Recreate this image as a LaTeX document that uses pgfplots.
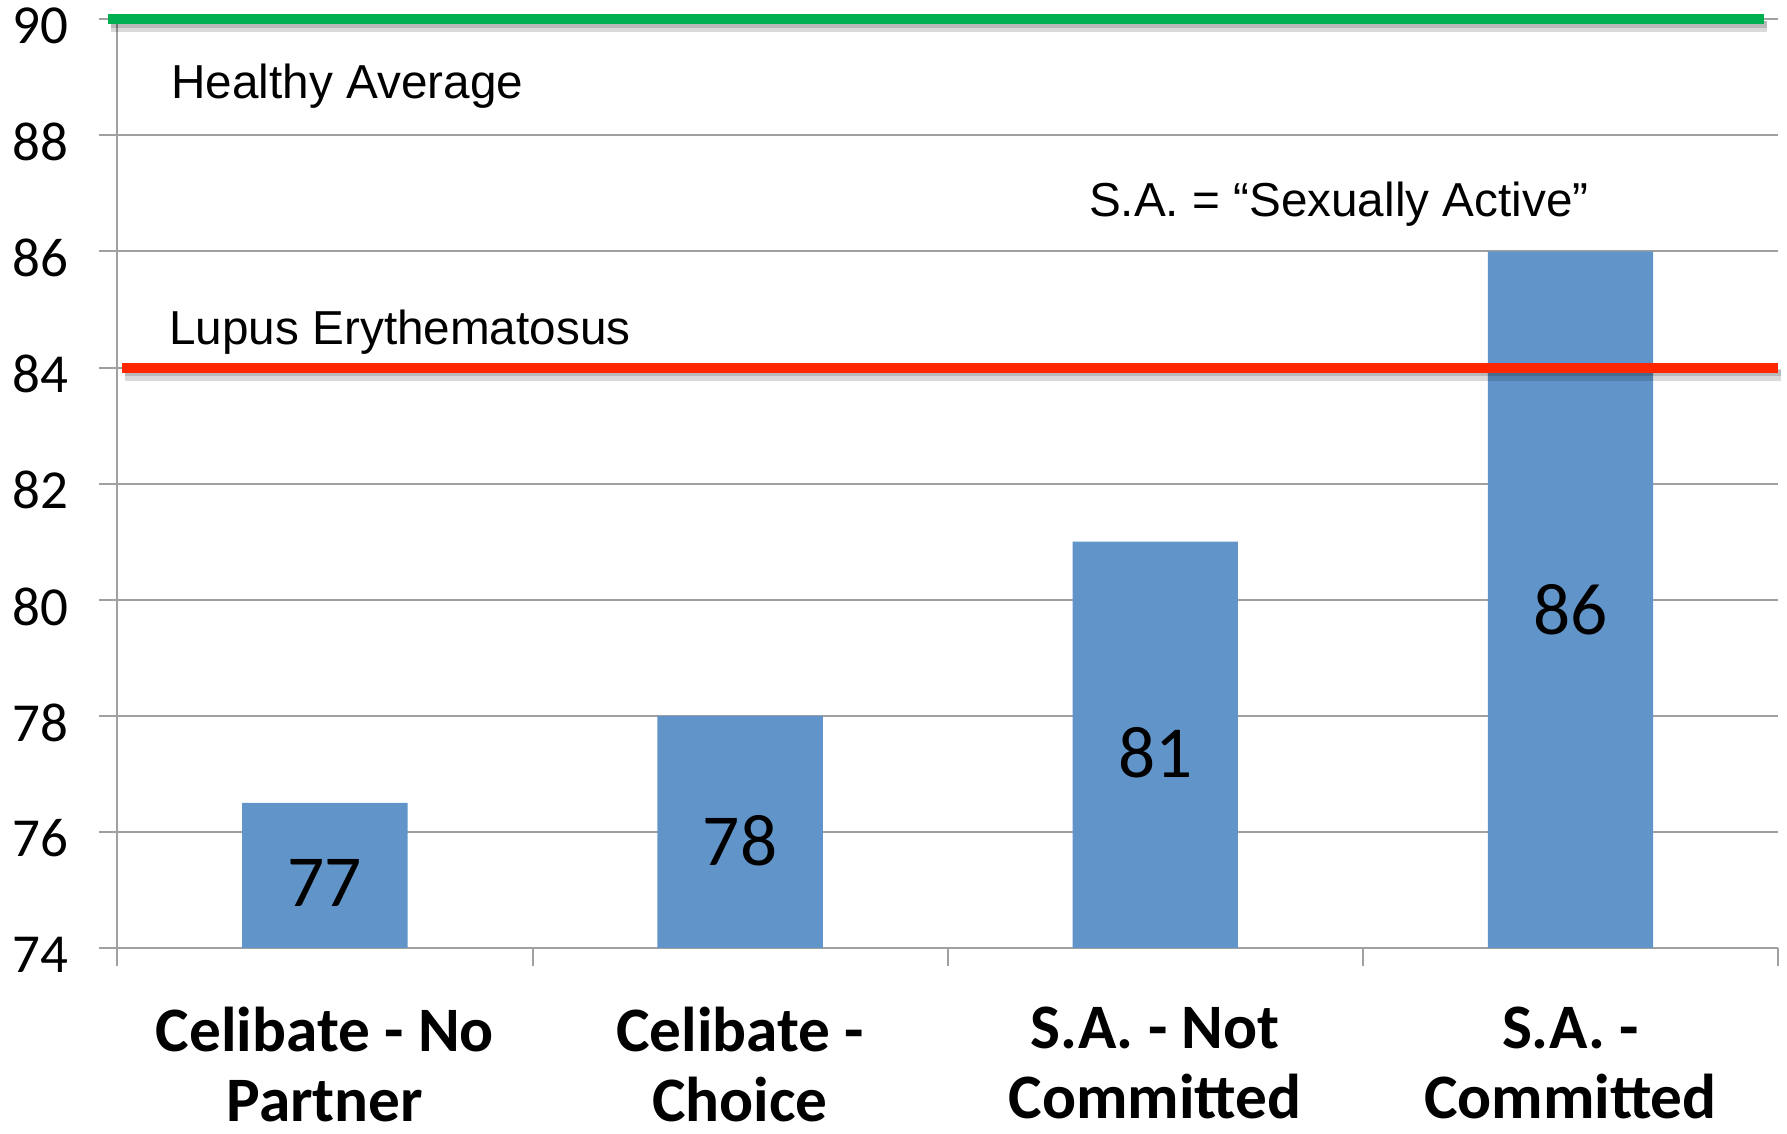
\documentclass[border=0pt]{standalone}
\usepackage{fontspec}
\setmainfont{Carlito}
\newfontfamily\arialfont{Liberation Sans}
\usepackage{pgfplots}
\pgfplotsset{compat=1.18}
\definecolor{barblue}{HTML}{6195C9}
\definecolor{lineGreen}{HTML}{00B050}
\definecolor{lineRed}{HTML}{FF2600}
\definecolor{gridgray}{HTML}{A0A0A0}

\begin{document}
\begin{tikzpicture}
% bars, grid and ticks
\begin{axis}[
  scale only axis,
  width=498.2pt, height=278.6pt,
  xmin=-0.5, xmax=3.5, ymin=74, ymax=90,
  axis x line=bottom, axis y line=left,
  axis line style={draw=gridgray, line width=0.6pt, -},
  ytick={74,76,...,90},
  ymajorgrids,
  grid style={draw=gridgray, line width=0.6pt},
  xtick={-0.5,0.5,1.5,2.5,3.5}, xticklabels={},
  tick align=outside, major tick length=5.5pt,
  tick style={draw=gridgray, line width=0.6pt},
  extra x ticks={0,1,2,3},
  extra x tick labels={{Celibate - No\\Partner},{Celibate -\\Choice},{S.A. - Not\\Committed},{S.A. -\\Committed}},
  extra x tick style={major tick length=0pt,
    tick label style={align=center, inner sep=0pt, yshift=-17.6pt,
      font=\bfseries\fontsize{19}{21}\selectfont}},
  yticklabel style={font=\fontsize{16.5}{18}\selectfont, inner sep=0pt, xshift=-9pt, yshift=-2pt},
  /pgf/number format/assume math mode=true,
  ybar, bar width=49.6pt,
]
\addplot[fill=barblue, draw=none] coordinates {(0,76.5) (1,78) (2,81) (3,86)};
\end{axis}
% reference lines and notes
\begin{axis}[
  scale only axis,
  width=498.2pt, height=278.6pt,
  xmin=-0.5, xmax=3.5, ymin=74, ymax=90,
  hide axis, clip=false,
]
\addplot[black, opacity=0.15, line width=3.4pt, yshift=-2.2pt] coordinates {(-0.515,90) (3.474,90)};
\addplot[black, opacity=0.15, line width=2pt, yshift=-1.6pt] coordinates {(-0.515,90) (3.474,90)};
\addplot[lineGreen, line width=3pt] coordinates {(-0.523,90) (3.466,90)};
\addplot[black, opacity=0.15, line width=3.4pt, yshift=-2.2pt] coordinates {(-0.481,84) (3.508,84)};
\addplot[black, opacity=0.15, line width=2pt, yshift=-1.6pt] coordinates {(-0.481,84) (3.508,84)};
\addplot[lineRed, line width=3pt] coordinates {(-0.489,84) (3.5,84)};
\node[anchor=base west, inner sep=0pt, font=\arialfont\fontsize{14.3}{17}\selectfont] at (axis cs:-0.371,88.64) {Healthy Average};
\node[anchor=base west, inner sep=0pt, font=\arialfont\fontsize{14.3}{17}\selectfont] at (axis cs:-0.376,84.40) {Lupus Erythematosus};
\node[anchor=base west, inner sep=0pt, font=\arialfont\fontsize{14.3}{17}\selectfont] at (axis cs:1.839,86.60) {S.A. = “Sexually Active”};
\node[font=\fontsize{22}{26}\selectfont] at (axis cs:0,75.12) {77};
\node[font=\fontsize{22}{26}\selectfont] at (axis cs:1,75.85) {78};
\node[font=\fontsize{22}{26}\selectfont] at (axis cs:2,77.36) {81};
\node[font=\fontsize{22}{26}\selectfont] at (axis cs:3,79.83) {86};
\coordinate (bl) at (rel axis cs:0,0);
\coordinate (tr) at (rel axis cs:1,1);
\end{axis}
\pgfresetboundingbox
\path ([shift={(-35.2pt,-55.7pt)}]bl) rectangle ([shift={(2.7pt,5.8pt)}]tr);
\end{tikzpicture}
\end{document}
